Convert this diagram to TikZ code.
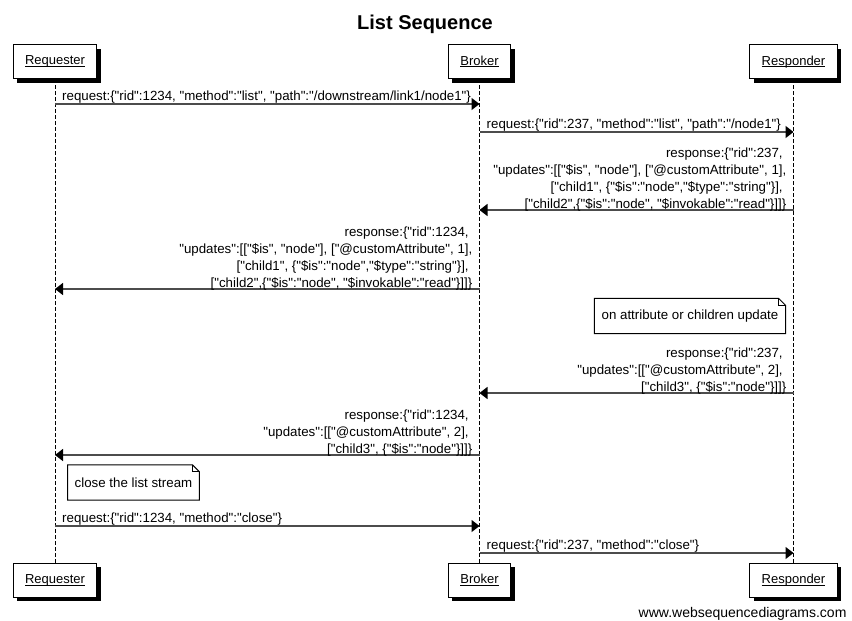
\documentclass[tikz,border=0pt]{standalone}
\usepackage{fontspec}
\setmainfont{Liberation Sans}[Ligatures=TeXOff]
\usetikzlibrary{arrows.meta,shadows}

\newcommand*\lifegap{7pt}
\newcommand*\foldsize{7pt}
\newcommand*\actorname[1]{\underline{\raisebox{0pt}[\height][0pt]{#1}}}
\tikzset{
  actor/.style={
    draw,
    line width=1pt,
    fill=white,
    rectangle,
    inner xsep=12pt,
    minimum height=34pt,
    drop shadow={shadow xshift=4pt,shadow yshift=-4pt,fill=black,opacity=1}
  },
  lifeline/.style={line width=1pt,dash pattern=on 4pt off 2pt},
  msg/.style={line width=1.5pt,draw=black!70,-{Triangle[length=8pt,width=12pt,color=black]}},
  lbl/.style={inner sep=0pt,align=#1},
  note/.style={fill=white,rectangle,inner xsep=7pt,minimum height=35pt},
  notefold/.style={line width=1pt,line join=miter}
}

\begin{document}
\begin{tikzpicture}[x=1pt,y=-1pt,font=\fontsize{13.3}{17}\selectfont]

    % Page frame.
    \fill[white] (0,0) rectangle (852,621);
    \useasboundingbox (0,0) rectangle (852,621);

    \node[anchor=base,font=\bfseries\fontsize{20}{24}\selectfont] (title) at (425,30) {List Sequence};

    % Participants, top and bottom.
    \node[actor,font=\fontsize{13}{16}\selectfont] (rqT) at (55,61.5) {\actorname{Requester}};
    \node[actor,font=\fontsize{13}{16}\selectfont] (brT) at (479.5,61.5) {\actorname{Broker}};
    \node[actor,font=\fontsize{13}{16}\selectfont] (rsT) at (793.5,61.5) {\actorname{Responder}};
    \node[actor,font=\fontsize{13}{16}\selectfont] (rqB) at (55,580) {\actorname{Requester}};
    \node[actor,font=\fontsize{13}{16}\selectfont] (brB) at (479.5,580) {\actorname{Broker}};
    \node[actor,font=\fontsize{13}{16}\selectfont] (rsB) at (793.5,580) {\actorname{Responder}};

    % Draw the lifelines.
    \draw[lifeline] (rqT.south) -- (rqB.north);
    \draw[lifeline] (brT.south) -- (brB.north);
    \draw[lifeline] (rsT.south) -- (rsB.north);

    % One point on each lifeline for every message.
    \foreach \n/\y in {1/104,2/132,3/210,4/289,5/393,6/455,7/526,8/553} {
        \coordinate (rq\n) at (rqT |- 0,\y);
        \coordinate (br\n) at (brT |- 0,\y);
        \coordinate (rs\n) at (rsT |- 0,\y);
    }

    % Open the list.
    \draw[msg] (rq1) -- (br1);
    \node[lbl=left,anchor=south west] (l1) at ([xshift=\lifegap,yshift=0.5pt]rq1)
        {request:\{"rid":1234, "method":"list", "path":"/downstream/link1/node1"\}};
    \draw[msg] (br2) -- (rs2);
    \node[lbl=left,anchor=south west] (l2) at ([xshift=\lifegap,yshift=0.5pt]br2)
        {request:\{"rid":237, "method":"list", "path":"/node1"\}};

    % First responses.
    \draw[msg] (rs3) -- (br3);
    \node[lbl=right,anchor=south east] (l3) at ([xshift=-\lifegap,yshift=-1.5pt]rs3)
        {response:\{"rid":237,\kern3.6pt\\
         "updates":[["\$is", "node"], ["@customAttribute", 1],\\
         {}["child1", \{"\$is":"node","\$type":"string"\}],\kern3.6pt\\
         {}["child2",\{"\$is":"node", "\$invokable":"read"\}]]\}};
    \draw[msg] (br4) -- (rq4);
    \node[lbl=right,anchor=south east] (l4) at ([xshift=-\lifegap,yshift=-1.5pt]br4)
        {response:\{"rid":1234,\kern3.6pt\\
         "updates":[["\$is", "node"], ["@customAttribute", 1],\\
         {}["child1", \{"\$is":"node","\$type":"string"\}],\kern3.6pt\\
         {}["child2",\{"\$is":"node", "\$invokable":"read"\}]]\}};

    % Updates.
    \node[note] (n1) at (690,316) {on attribute or children update};
    \draw[msg] (rs5) -- (br5);
    \node[lbl=right,anchor=south east] (l5) at ([xshift=-\lifegap,yshift=-1.5pt]rs5)
        {response:\{"rid":237,\kern3.6pt\\
         "updates":[["@customAttribute", 2],\kern3.6pt\\
         {}["child3", \{"\$is":"node"\}]]\}};
    \draw[msg] (br6) -- (rq6);
    \node[lbl=right,anchor=south east] (l6) at ([xshift=-\lifegap,yshift=-1.5pt]br6)
        {response:\{"rid":1234,\kern3.6pt\\
         "updates":[["@customAttribute", 2],\kern3.6pt\\
         {}["child3", \{"\$is":"node"\}]]\}};

    % Close the list.
    \node[note] (n2) at (133.5,482.5) {close the list stream};
    \draw[msg] (rq7) -- (br7);
    \node[lbl=left,anchor=south west] (l7) at ([xshift=\lifegap,yshift=0.5pt]rq7)
        {request:\{"rid":1234, "method":"close"\}};
    \draw[msg] (br8) -- (rs8);
    \node[lbl=left,anchor=south west] (l8) at ([xshift=\lifegap,yshift=0.5pt]br8)
        {request:\{"rid":237, "method":"close"\}};

    % Note outlines with a folded corner.
    \foreach \nt in {n1,n2} {
        \draw[notefold] (\nt.south west) -- (\nt.north west) -- ([xshift=-\foldsize]\nt.north east)
            -- ([yshift=-\foldsize]\nt.north east) -- (\nt.south east) -- cycle;
        \draw[notefold] ([xshift=-\foldsize]\nt.north east) -- ([xshift=-\foldsize,yshift=-\foldsize]\nt.north east)
            -- ([yshift=-\foldsize]\nt.north east);
    }

    \node[anchor=base east,font=\fontsize{14}{16}\selectfont] (site) at (850,617) {www.websequencediagrams.com};

\end{tikzpicture}
\end{document}
